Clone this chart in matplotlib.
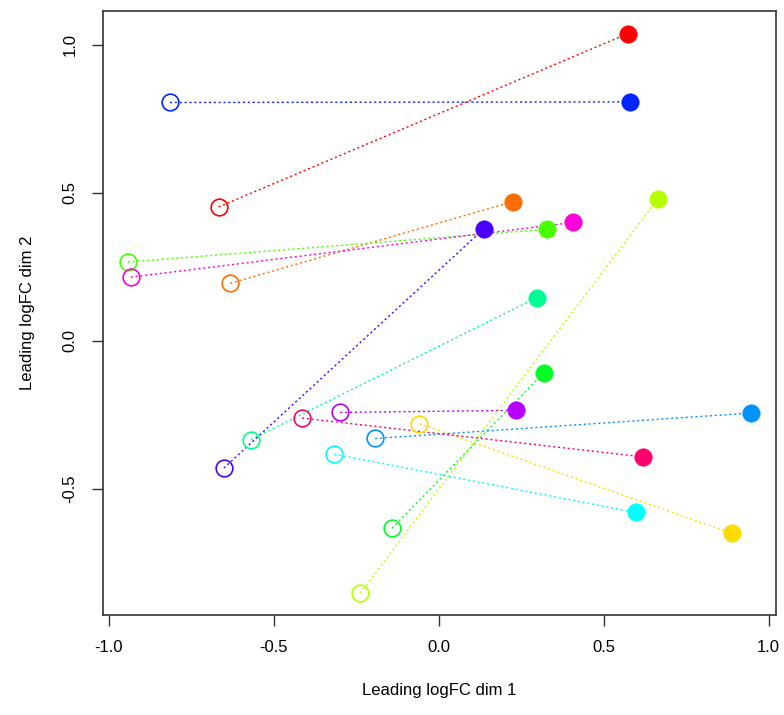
import matplotlib
matplotlib.use("Agg")
import matplotlib.pyplot as plt

colors = ["#FF0000", "#FF6D00", "#FFDB00", "#B6FF00", "#49FF00", "#00FF24", "#00FF92",
          "#00FFFF", "#0092FF", "#0024FF", "#4900FF", "#B600FF", "#FF00DB", "#FF006D"]
x_start = [-0.667, -0.632, -0.058, -0.237, -0.942, -0.141, -0.569,
           -0.316, -0.192, -0.814, -0.651, -0.298, -0.933, -0.414]
y_start = [0.452, 0.194, -0.280, -0.852, 0.266, -0.633, -0.334,
           -0.383, -0.330, 0.805, -0.430, -0.242, 0.215, -0.261]
x_end = [0.574, 0.225, 0.888, 0.664, 0.328, 0.318, 0.298,
         0.598, 0.947, 0.580, 0.138, 0.235, 0.408, 0.618]
y_end = [1.038, 0.470, -0.650, 0.479, 0.377, -0.109, 0.146,
         -0.580, -0.244, 0.807, 0.379, -0.235, 0.400, -0.392]
xticks = [-1.0, -0.5, 0.0, 0.5, 1.0]
yticks = [-0.5, 0.0, 0.5, 1.0]

plt.rcParams['font.family'] = ['Liberation Sans', 'DejaVu Sans']
fig = plt.figure(figsize=(7.84, 7.15), dpi=100)
ax = fig.add_axes([0.131, 0.140, 0.859, 0.845])

for i, c in enumerate(colors):
    ax.plot([x_start[i], x_end[i]], [y_start[i], y_end[i]], color=c, lw=1.0,
            linestyle=(0, (1.5, 2)), zorder=2)
for i, c in enumerate(colors):
    ax.plot(x_start[i], y_start[i], marker='o', ms=12, mfc='none', mec=c, mew=1.2, zorder=3)
    ax.plot(x_end[i], y_end[i], marker='o', ms=12.5, mfc=c, mec=c, mew=0.5, zorder=4)

ax.set_xlim(-1.018, 1.023)
ax.set_ylim(-0.926, 1.115)
ax.set_xticks(xticks)
ax.set_yticks(yticks)
ax.set_xticklabels([f"{t:.1f}" for t in xticks])
ax.set_yticklabels([f"{t:.1f}" for t in yticks], rotation=90, va='center')
ax.tick_params(axis='both', length=8, width=1, labelsize=12, pad=10, color='#333333')
for s in ax.spines.values():
    s.set_linewidth(1.2)
    s.set_color('#333333')
ax.set_xlabel("Leading logFC dim 1", fontsize=12, labelpad=20)
ax.set_ylabel("Leading logFC dim 2", fontsize=12, labelpad=20)

fig.savefig("out.png", dpi=100)
